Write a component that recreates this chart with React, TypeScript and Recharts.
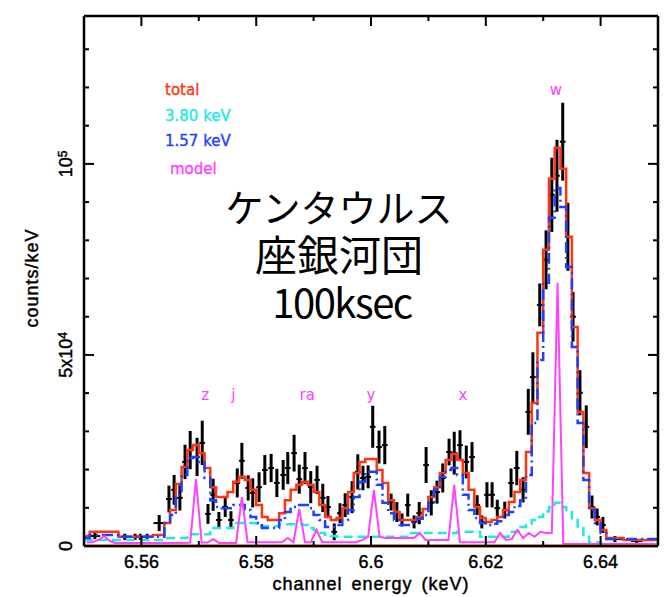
import React from "react";
import {
  ComposedChart,
  ErrorBar,
  Line,
  ReferenceDot,
  ReferenceLine,
  Scatter,
  XAxis,
  YAxis,
} from "recharts";

// Fe XXV He-alpha region, 1 eV channels from 6.550 to 6.650 keV
const E_MIN = 6.55;
const E_MAX = 6.65;
const CHANNEL = 0.001;
const Y_MAX = 138700;

// folded model, counts/keV per channel
const totalFit = [
  2600, 3700, 3700, 3700, 3700, 3700, 2400, 2400, 2400, 2400,
  2400, 2400, 2900, 2900, 6000, 9400, 16200, 20700, 25100, 26400,
  24300, 20400, 15400, 12800, 12800, 14100, 16800, 18100, 17300, 14700,
  10700, 7600, 6800, 6800, 8600, 12000, 14700, 16000, 16800, 16000,
  14100, 10700, 7600, 6800, 7300, 9900, 14100, 19100, 22000, 22800,
  22800, 19900, 16500, 12000, 8900, 6800, 6800, 6800, 7600, 9700,
  12800, 15400, 19100, 22500, 24100, 22500, 19100, 14700, 10200, 7300,
  6300, 6800, 7600, 9400, 11500, 14100, 17300, 24600, 37400, 55800,
  77500, 96100, 104200, 98700, 80900, 57300, 35100, 19100, 9900, 6800,
  4200, 2100, 2100, 2100, 1600, 1600, 1600, 1600, 1600, 1600,
];

// 1.57 keV component
const warmFit = [
  2100, 2900, 2900, 2900, 2900, 2900, 2400, 2400, 2400, 2400,
  2400, 2400, 2400, 2400, 6000, 8100, 13400, 18600, 23000, 23300,
  22000, 17800, 12000, 10200, 9900, 9900, 10700, 10700, 9400, 7600,
  6000, 4700, 4700, 4700, 6800, 8900, 10200, 10700, 10700, 9900,
  8100, 6800, 5000, 5000, 5500, 6800, 9400, 12800, 16800, 19400,
  19400, 16000, 11300, 8600, 6800, 5500, 5500, 6000, 7100, 8100,
  11500, 14700, 18100, 19900, 20400, 18600, 13400, 9400, 7300, 6000,
  5500, 5800, 6500, 8100, 8900, 10500, 12000, 18600, 32200, 48700,
  68900, 85900, 93700, 88700, 73000, 52100, 32200, 17300, 9400, 6000,
  3400, 1800, 1800, 1800, 1800, 1800, 1800, 1800, 1800, 1800,
];

// 3.80 keV component
const hotFit = [
  1600, 1600, 1600, 1600, 1600, 1600, 1600, 1600, 1600, 1600,
  1600, 1600, 1600, 1600, 2100, 2100, 2100, 2100, 3100, 3100,
  3100, 3100, 4700, 4700, 4700, 4700, 6000, 6000, 6000, 6000,
  5200, 5200, 5200, 5200, 5700, 5700, 5700, 5700, 5500, 4700,
  4200, 3400, 2900, 2600, 2400, 2400, 2400, 2400, 2400, 2400,
  2400, 2400, 2400, 2400, 2400, 2400, 2400, 3400, 3400, 3400,
  3400, 3400, 3400, 3400, 3400, 3700, 3700, 3700, 3700, 2400,
  2400, 2400, 2400, 2400, 3700, 3700, 5000, 5500, 6800, 7600,
  9000, 10200, 11300, 10200, 8900, 6800, 4700, 2400, 1000, 1000,
  500, 500, 500, 500, 500, 500, 500, 500, 500, 500,
];

// unconvolved line model at channel centres
const lineModel = [
  1000, 1000, 1600, 2600, 1300, 800, 800, 800, 800, 800,
  800, 800, 800, 800, 800, 800, 800, 800, 900, 17500,
  900, 900, 1800, 800, 800, 800, 800, 12800, 1000, 1000,
  1000, 1000, 1000, 1000, 1000, 2100, 1000, 9700, 1000, 1000,
  4200, 1000, 1000, 1000, 1000, 1000, 1000, 1000, 1600, 2400,
  14700, 2400, 2100, 2100, 2100, 2100, 2100, 2100, 3400, 1600,
  1600, 1600, 1600, 1600, 16000, 1000, 1000, 1000, 1000, 1000,
  1000, 1000, 3400, 1600, 1800, 4200, 2100, 3400, 2400, 3700,
  3400, 3400, 68900, 500, 500, 500, 500, 500, 500, 500,
  500, 500, 500, 500, 500, 500, 500, 500, 500, 500,
];

// simulated 100 ks observation
const obsEnergy = [
  6.5519, 6.5571, 6.5589, 6.5598, 6.561, 6.5631, 6.5648, 6.5657, 6.5667, 6.5676,
  6.5685, 6.5697, 6.5706, 6.5716, 6.5725, 6.5735, 6.5746, 6.5756, 6.5767, 6.5775,
  6.5786, 6.5794, 6.5805, 6.5815, 6.5826, 6.5836, 6.5847, 6.5855, 6.5866, 6.5875,
  6.5885, 6.5895, 6.5906, 6.5916, 6.5925, 6.5936, 6.5946, 6.5955, 6.5967, 6.5977,
  6.5986, 6.5995, 6.6003, 6.6014, 6.6024, 6.6035, 6.6045, 6.6054, 6.6064, 6.6075,
  6.6084, 6.6096, 6.6105, 6.6115, 6.6125, 6.6136, 6.6145, 6.6155, 6.6166, 6.6176,
  6.6185, 6.6193, 6.6202, 6.6211, 6.622, 6.6233, 6.6244, 6.6254, 6.6265, 6.6274,
  6.6282, 6.6294, 6.6305, 6.6315, 6.6324, 6.6334, 6.6343, 6.6352, 6.6364, 6.6375,
  6.6385, 6.6394, 6.6404, 6.6425, 6.6463,
];
const obsRate = [
  2600, 2400, 2400, 2400, 2400, 6000, 12300, 14700, 12600, 22000,
  25100, 23300, 27000, 8400, 13400, 6800, 10200, 6800, 16500, 22300,
  15200, 13900, 15400, 19900, 20400, 16500, 18600, 20400, 24300, 17500,
  20400, 15400, 17300, 12600, 10200, 3700, 8600, 10700, 12800, 19400,
  17800, 18100, 31200, 25900, 26400, 11500, 8900, 6800, 10700, 6300,
  8600, 21200, 11300, 14100, 17800, 24600, 24300, 26400, 22000, 23300,
  10700, 6300, 13400, 13400, 9900, 9400, 16500, 20400, 14700, 35100,
  44200, 63100, 74900, 91900, 96900, 105800, 80900, 60000, 40100, 31200,
  10200, 7600, 5500, 1800, 1300,
];
const obsSigma = [
  800, 800, 800, 800, 800, 2100, 3500, 3900, 3300, 4500,
  5000, 5000, 5800, 2600, 4200, 2100, 2600, 2300, 3800, 4700,
  3300, 3800, 3900, 3900, 3700, 3700, 3900, 4200, 4800, 3800,
  4200, 4200, 3700, 3700, 2900, 2200, 2600, 3100, 4200, 4600,
  3200, 3000, 5500, 4300, 5000, 2200, 2600, 1700, 3000, 1700,
  2900, 4700, 3300, 3000, 3800, 3500, 5600, 3900, 4300, 3900,
  2600, 1700, 3300, 3300, 2200, 2200, 3800, 4500, 3300, 6000,
  6500, 5600, 7700, 9700, 9400, 10200, 8900, 6500, 5900, 5600,
  3000, 2200, 2100, 800, 500,
];
const obsHalfWidth = [
  0.0009, 0.0005, 0.0005, 0.0005, 0.0005, 0.001, 0.0005, 0.0005, 0.0005, 0.0005,
  0.0005, 0.0005, 0.0005, 0.0005, 0.0005, 0.0005, 0.0005, 0.0005, 0.0005, 0.0005,
  0.0005, 0.0005, 0.0005, 0.0005, 0.0005, 0.0005, 0.0005, 0.0005, 0.0005, 0.0005,
  0.0005, 0.0005, 0.0005, 0.0005, 0.0005, 0.0005, 0.0005, 0.0005, 0.0005, 0.0005,
  0.0005, 0.0005, 0.0005, 0.0005, 0.0005, 0.0005, 0.0005, 0.0005, 0.0005, 0.0005,
  0.0005, 0.0005, 0.0005, 0.0005, 0.0005, 0.0005, 0.0005, 0.0005, 0.0005, 0.0005,
  0.0005, 0.0005, 0.0005, 0.0005, 0.0005, 0.0005, 0.0005, 0.0005, 0.0005, 0.0005,
  0.0005, 0.0005, 0.0005, 0.0005, 0.0005, 0.0005, 0.0005, 0.0005, 0.0005, 0.0005,
  0.0005, 0.0005, 0.0005, 0.0016, 0.001,
];

// line identifications
const lineIds = ["z", "j", "ra", "y", "x", "w"];
const lineEnergy = [6.5711, 6.576, 6.5889, 6.6, 6.616, 6.6322];
const lineLabelLevel = [39600, 39600, 39600, 39600, 39600, 119500];

const xTicks = [6.56, 6.57, 6.58, 6.59, 6.6, 6.61, 6.62, 6.63, 6.64];
const xTickLabels = ["6.56", "", "6.58", "", "6.6", "", "6.62", "", "6.64"];
const yTicks = [
  0, 10000, 20000, 30000, 40000, 50000, 60000, 70000, 80000, 90000, 100000,
  110000, 120000, 130000,
];
const yMajor = [0, 50000, 100000];

const RED = "#ff3412";
const CYAN = "#1ee8e8";
const BLUE = "#1f40ff";
const MAGENTA = "#ff42ff";
const ORANGE = "#ff8c10";
const AXIS_FONT = "'Liberation Sans', Arial, sans-serif";
const KEY_FONT = "'DejaVu Sans', Verdana, sans-serif";

// histogram rows: one row per channel edge, last edge repeats the final channel
const stepRows = Array.from({ length: totalFit.length + 1 }, (_, i) => {
  const k = Math.min(i, totalFit.length - 1);
  return {
    e: +(E_MIN + i * CHANNEL).toFixed(4),
    total: totalFit[k],
    warm: warmFit[k],
    hot: hotFit[k],
  };
});

const modelRows = lineModel.map((v, i) => ({
  e: +(E_MIN + (i + 0.5) * CHANNEL).toFixed(4),
  model: v,
}));

const obsRows = obsEnergy.map((e, i) => ({
  e,
  rate: obsRate[i],
  dy: obsSigma[i],
  dx: obsHalfWidth[i],
}));

const MAJOR = 10;
const MINOR = 5;
const heavy = { stroke: "#000", strokeWidth: 0.45 };

function BottomTick({ x, y, index }: any) {
  const label = xTickLabels[index];
  return (
    <g>
      <line x1={x} y1={y} x2={x} y2={y - (label ? MAJOR : MINOR)} stroke="#000" strokeWidth={2} />
      {label ? (
        <text x={x} y={y + 22} textAnchor="middle" fontFamily={AXIS_FONT} fontSize={18} fill="#000" {...heavy}>
          {label}
        </text>
      ) : null}
    </g>
  );
}

function TopTick({ x, y, index }: any) {
  const len = xTickLabels[index] ? MAJOR : MINOR;
  return <line x1={x} y1={y} x2={x} y2={y + len} stroke="#000" strokeWidth={2} />;
}

function YLabel({ value, cx, cy }: { value: number; cx: number; cy: number }) {
  const common = {
    x: cx,
    y: cy,
    dy: "0.36em",
    textAnchor: "middle" as const,
    transform: `rotate(-90 ${cx} ${cy})`,
    fontFamily: AXIS_FONT,
    fontSize: 18,
    fill: "#000",
    ...heavy,
  };
  if (value === 0) return <text {...common}>0</text>;
  if (value === 50000)
    return (
      <text {...common}>
        5x10<tspan dy="-0.45em" fontSize={12}>4</tspan>
      </text>
    );
  return (
    <text {...common}>
      10<tspan dy="-0.45em" fontSize={12}>5</tspan>
    </text>
  );
}

function LeftTick({ x, y, payload }: any) {
  const major = yMajor.includes(payload.value);
  return (
    <g>
      {payload.value !== 0 ? (
        <line x1={x} y1={y} x2={x + (major ? MAJOR : MINOR)} y2={y} stroke="#000" strokeWidth={2} />
      ) : null}
      {major ? <YLabel value={payload.value} cx={x - 18} cy={y} /> : null}
    </g>
  );
}

function RightTick({ x, y, payload }: any) {
  if (payload.value === 0) return <g />;
  const len = yMajor.includes(payload.value) ? MAJOR : MINOR;
  return <line x1={x} y1={y} x2={x - len} y2={y} stroke="#000" strokeWidth={2} />;
}

const noMarker = () => <g />;
const axisLine = { stroke: "#000", strokeWidth: 2.5 };

export default function App() {
  return (
    <div style={{ position: "absolute", left: 0, top: 0, width: 666, height: 597, background: "#fff" }}>
      <ComposedChart width={666} height={597} margin={{ top: 15, right: 7, bottom: 0, left: 0 }}>
        <XAxis
          dataKey="e"
          type="number"
          domain={[E_MIN, E_MAX]}
          allowDataOverflow
          ticks={xTicks}
          interval={0}
          tickSize={0}
          tickMargin={0}
          tickLine={false}
          axisLine={axisLine}
          tick={<BottomTick />}
          height={51}
        />
        <XAxis
          xAxisId="top"
          orientation="top"
          dataKey="e"
          type="number"
          domain={[E_MIN, E_MAX]}
          allowDataOverflow
          ticks={xTicks}
          interval={0}
          tickSize={0}
          tickMargin={0}
          tickLine={false}
          axisLine={axisLine}
          tick={<TopTick />}
          height={1}
        />
        <YAxis
          type="number"
          domain={[0, Y_MAX]}
          allowDataOverflow
          ticks={yTicks}
          interval={0}
          tickSize={0}
          tickMargin={0}
          tickLine={false}
          axisLine={axisLine}
          tick={<LeftTick />}
          width={84}
        />
        <YAxis
          yAxisId="right"
          orientation="right"
          type="number"
          domain={[0, Y_MAX]}
          allowDataOverflow
          ticks={yTicks}
          interval={0}
          tickSize={0}
          tickMargin={0}
          tickLine={false}
          axisLine={axisLine}
          tick={<RightTick />}
          width={1}
        />

        <Scatter data={obsRows} dataKey="rate" shape={noMarker} isAnimationActive={false}>
          <ErrorBar dataKey="dy" direction="y" width={0} stroke="#000" strokeWidth={3} isAnimationActive={false} />
          <ErrorBar dataKey="dx" direction="x" width={0} stroke="#000" strokeWidth={2} isAnimationActive={false} />
        </Scatter>

        <Line data={stepRows} dataKey="total" type="stepAfter" stroke={RED} strokeWidth={2.5} dot={false} activeDot={false} isAnimationActive={false} />
        <Line data={stepRows} dataKey="hot" type="stepAfter" stroke={CYAN} strokeWidth={2.5} strokeDasharray="9 5" dot={false} activeDot={false} isAnimationActive={false} />
        <Line data={stepRows} dataKey="warm" type="stepAfter" stroke={BLUE} strokeWidth={2.5} strokeDasharray="11 4 2 4" dot={false} activeDot={false} isAnimationActive={false} />
        <Line data={modelRows} dataKey="model" type="linear" stroke={MAGENTA} strokeWidth={2} dot={false} activeDot={false} isAnimationActive={false} />

        <ReferenceLine y={0} stroke={ORANGE} strokeWidth={3} />

        {lineIds.map((id, i) => (
          <ReferenceDot
            key={id}
            x={lineEnergy[i]}
            y={lineLabelLevel[i]}
            r={0}
            fill="none"
            stroke="none"
            label={{ value: id, position: "center", fill: MAGENTA, fontSize: 15, fontFamily: KEY_FONT }}
          />
        ))}
      </ComposedChart>

      <svg width={666} height={597} style={{ position: "absolute", left: 0, top: 0, pointerEvents: "none" }}>
        <g fontFamily={KEY_FONT} fontSize={15} strokeWidth={0.35}>
          <text x={165} y={95} fill={RED} stroke={RED}>total</text>
          <text x={165} y={121} fill={CYAN} stroke={CYAN}>3.80 keV</text>
          <text x={165} y={146} fill={BLUE} stroke={BLUE}>1.57 keV</text>
          <text x={170} y={174} fill={MAGENTA} stroke={MAGENTA}>model</text>
        </g>
        <text fontFamily="'Noto Sans CJK JP', sans-serif" fill="#000" textAnchor="middle">
          <tspan x={339} y={222} fontSize={38}>ケンタウルス</tspan>
          <tspan x={339} y={271} fontSize={42}>座銀河団</tspan>
          <tspan x={342} y={318} fontSize={40} letterSpacing={-1.5}>100ksec</tspan>
        </text>
        <text
          x={32}
          y={278}
          dy="0.36em"
          transform="rotate(-90 32 278)"
          textAnchor="middle"
          fontFamily={AXIS_FONT}
          fontSize={18}
          letterSpacing={1}
          {...heavy}
        >
          counts/keV
        </text>
        <text x={371} y={590} textAnchor="middle" fontFamily={AXIS_FONT} fontSize={18} letterSpacing={1} wordSpacing={3} {...heavy}>
          channel energy (keV)
        </text>
      </svg>
    </div>
  );
}
